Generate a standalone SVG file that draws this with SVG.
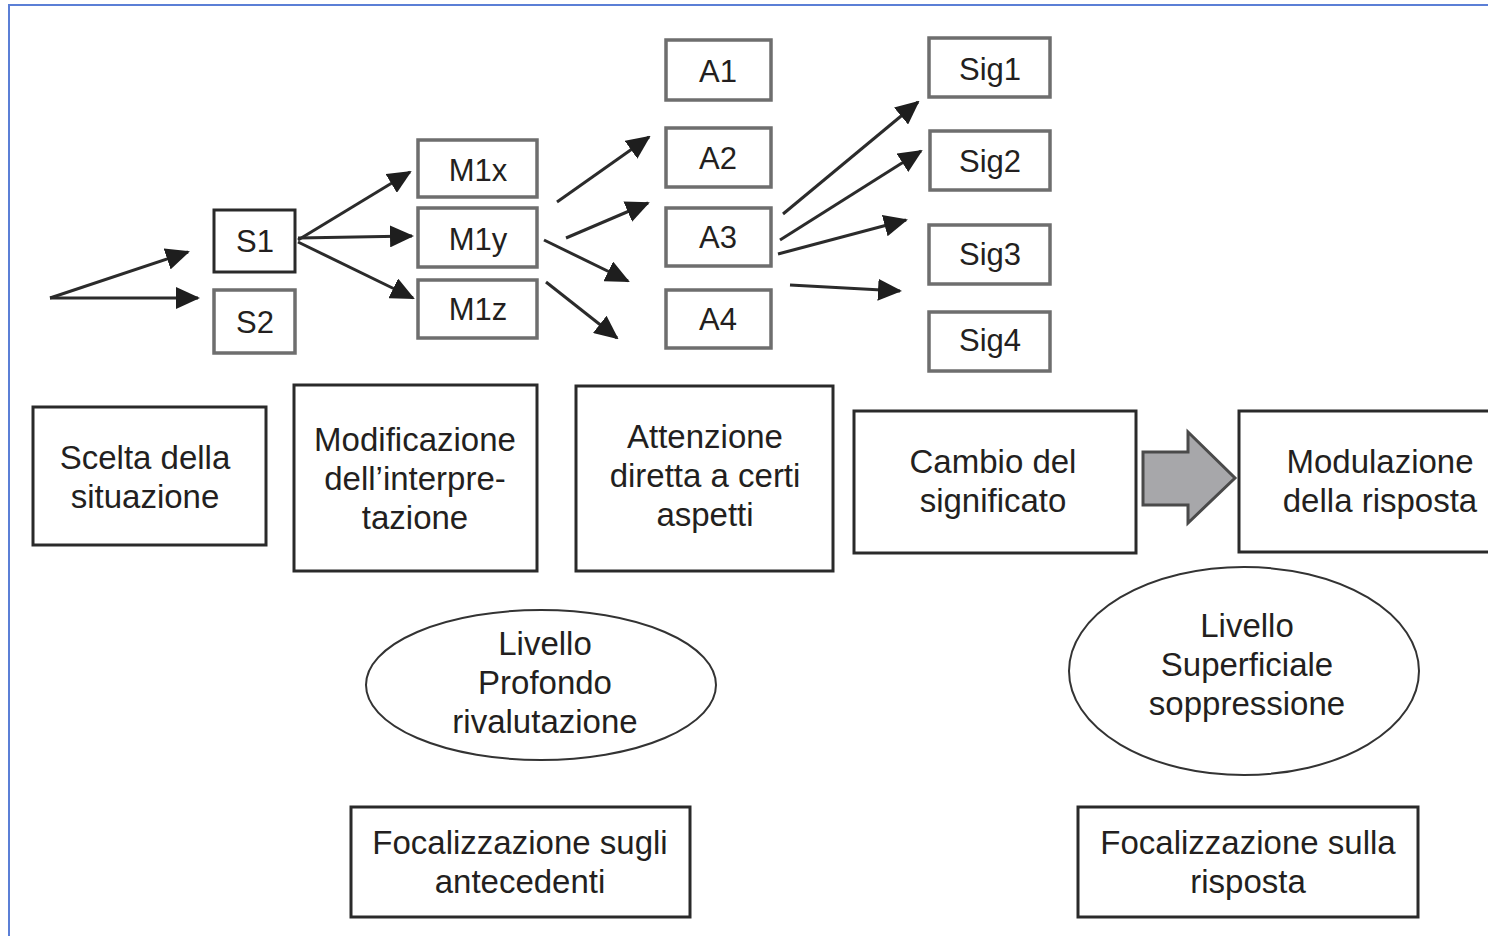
<svg xmlns="http://www.w3.org/2000/svg" width="1488" height="936" viewBox="0 0 1488 936">
<defs>
<marker id="ah" markerWidth="24" markerHeight="22" refX="22" refY="11" orient="auto" markerUnits="userSpaceOnUse">
<path d="M0,0 L24,11 L0,22 Z" fill="#1e1e1e"/>
</marker>
<style>
.box{fill:#fff;stroke:#2a2a2a;stroke-width:3}
.gbox{fill:#fff;stroke:#6e6e6e;stroke-width:3.5}
.ell{fill:#fff;stroke:#333;stroke-width:2}
.t{font-family:"Liberation Sans",Arial,sans-serif;font-size:33px;fill:#231f20;text-anchor:middle}
.s{font-family:"Liberation Sans",Arial,sans-serif;font-size:31px;fill:#231f20;text-anchor:middle}
.c{stroke:#2b2b2b;stroke-width:3;fill:none;marker-end:url(#ah)}
</style>
</defs>
<rect width="1488" height="936" fill="#fff"/>
<rect x="9" y="5" width="1520" height="1000" fill="none" stroke="#5b7fd6" stroke-width="2"/>

<g id="connectors">
<line class="c" x1="50" y1="298" x2="188" y2="252"/>
<line class="c" x1="50" y1="298" x2="198" y2="298"/>
<line class="c" x1="298" y1="240" x2="410" y2="172"/>
<line class="c" x1="298" y1="238" x2="412" y2="236"/>
<line class="c" x1="298" y1="242" x2="413" y2="298"/>
<line class="c" x1="557" y1="202" x2="649" y2="137"/>
<line class="c" x1="566" y1="238" x2="648" y2="203"/>
<line class="c" x1="544" y1="240" x2="628" y2="281"/>
<line class="c" x1="546" y1="282" x2="617" y2="338"/>
<line class="c" x1="783" y1="214" x2="918" y2="102"/>
<line class="c" x1="780" y1="240" x2="921" y2="151"/>
<line class="c" x1="778" y1="254" x2="906" y2="220"/>
<line class="c" x1="790" y1="285" x2="900" y2="291"/>
</g>

<g id="S1"><rect class="box" x="214" y="210" width="81" height="62"/><text class="s" x="255" y="252">S1</text></g>
<g id="S2"><rect class="gbox" x="214" y="290" width="81" height="63"/><text class="s" x="255" y="333">S2</text></g>

<g id="M1x"><rect class="gbox" x="418" y="140" width="119" height="57"/><text class="s" x="478" y="181">M1x</text></g>
<g id="M1y"><rect class="gbox" x="418" y="208" width="119" height="59"/><text class="s" x="478" y="250">M1y</text></g>
<g id="M1z"><rect class="gbox" x="418" y="280" width="119" height="58"/><text class="s" x="478" y="320">M1z</text></g>

<g id="A1"><rect class="gbox" x="666" y="40" width="105" height="60"/><text class="s" x="718" y="82">A1</text></g>
<g id="A2"><rect class="gbox" x="666" y="128" width="105" height="59"/><text class="s" x="718" y="169">A2</text></g>
<g id="A3"><rect class="gbox" x="666" y="208" width="105" height="58"/><text class="s" x="718" y="248">A3</text></g>
<g id="A4"><rect class="gbox" x="666" y="290" width="105" height="58"/><text class="s" x="718" y="330">A4</text></g>

<g id="Sig1"><rect class="gbox" x="929" y="38" width="121" height="59"/><text class="s" x="990" y="80">Sig1</text></g>
<g id="Sig2"><rect class="gbox" x="930" y="131" width="120" height="59"/><text class="s" x="990" y="172">Sig2</text></g>
<g id="Sig3"><rect class="gbox" x="929" y="225" width="121" height="59"/><text class="s" x="990" y="265">Sig3</text></g>
<g id="Sig4"><rect class="gbox" x="929" y="312" width="121" height="59"/><text class="s" x="990" y="351">Sig4</text></g>

<g id="scelta"><rect class="box" x="33" y="407" width="233" height="138"/>
<text class="t" x="145" y="469">Scelta della</text><text class="t" x="145" y="508">situazione</text></g>

<g id="modificazione"><rect class="box" x="294" y="385" width="243" height="186"/>
<text class="t" x="415" y="451">Modificazione</text><text class="t" x="415" y="490">dell’interpre-</text><text class="t" x="415" y="529">tazione</text></g>

<g id="attenzione"><rect class="box" x="576" y="386" width="257" height="185"/>
<text class="t" x="705" y="448">Attenzione</text><text class="t" x="705" y="487">diretta a certi</text><text class="t" x="705" y="526">aspetti</text></g>

<g id="cambio"><rect class="box" x="854" y="411" width="282" height="142"/>
<text class="t" x="993" y="473">Cambio del</text><text class="t" x="993" y="512">significato</text></g>

<g id="blockarrow"><path d="M1143,452 L1188,452 L1188,432 L1235,478 L1188,523 L1188,505 L1143,505 Z" fill="#a7a7aa" stroke="#4a4a4a" stroke-width="3"/></g>

<g id="modulazione"><rect class="box" x="1239" y="411" width="270" height="141"/>
<text class="t" x="1380" y="473">Modulazione</text><text class="t" x="1380" y="512">della risposta</text></g>

<g id="profondo"><ellipse class="ell" cx="541" cy="685" rx="175" ry="75"/>
<text class="t" x="545" y="655">Livello</text><text class="t" x="545" y="694">Profondo</text><text class="t" x="545" y="733">rivalutazione</text></g>

<g id="superficiale"><ellipse class="ell" cx="1244" cy="671" rx="175" ry="104"/>
<text class="t" x="1247" y="637">Livello</text><text class="t" x="1247" y="676">Superficiale</text><text class="t" x="1247" y="715">soppressione</text></g>

<g id="focAnt"><rect class="box" x="351" y="807" width="339" height="110"/>
<text class="t" x="520" y="854">Focalizzazione sugli</text><text class="t" x="520" y="893">antecedenti</text></g>

<g id="focRis"><rect class="box" x="1078" y="807" width="340" height="110"/>
<text class="t" x="1248" y="854">Focalizzazione sulla</text><text class="t" x="1248" y="893">risposta</text></g>
</svg>
